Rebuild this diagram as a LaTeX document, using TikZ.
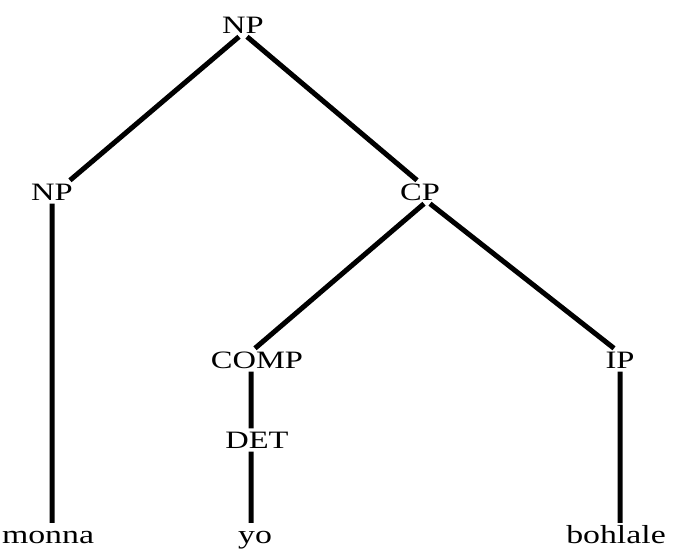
\documentclass[tikz,border=0pt]{standalone}
\usepackage{fontspec}
\setmainfont{Liberation Serif}[FakeStretch=1.3]
\usetikzlibrary{positioning}

\tikzset{
  cat/.style={font=\fontsize{25}{25}\selectfont, inner sep=3pt, text height=17pt, text depth=0pt},
  word/.style={font=\fontsize{26}{26}\selectfont, inner sep=3pt, text height=17pt, text depth=5pt},
  branch/.style={line width=5pt}
}

\begin{document}
\begin{tikzpicture}[x=1pt, y=-1pt]
            \useasboundingbox (0,0) rectangle (674,550);
            \node[cat] (np0) at (243,25) {NP};
            \node[cat] (np1) at (52,192) {NP};
            \node[cat] (cp) at (420,192) {CP};
            \node[cat] (comp) at (257,360) {COMP};
            \node[cat] (ip) at (620,360) {IP};
            \node[cat] (det) at (257,440) {DET};
            \node[word] (monna) at (48,537) {monna};
            \node[word] (yo) at (255,537) {yo};
            \node[word] (bohlale) at (616,537) {bohlale};

            \draw[branch] ([xshift=-4pt]np0.south) -- ([xshift=-6pt]np1.north east)
                  ([xshift=4pt]np0.south) -- ([xshift=-3pt]cp.north)
                  ([xshift=4pt]cp.south) -- ([xshift=-2pt]comp.north)
                  ([xshift=10pt]cp.south) -- ([xshift=-6pt]ip.north)
                  (np1.south) -- (np1.south |- monna.north)
                  (comp.south -| 251,0) -- (det.north -| 251,0)
                  (det.south -| 251,0) -- (yo.north -| 251,0)
                  (ip.south) -- (ip.south |- bohlale.north);
        \end{tikzpicture}
\end{document}
